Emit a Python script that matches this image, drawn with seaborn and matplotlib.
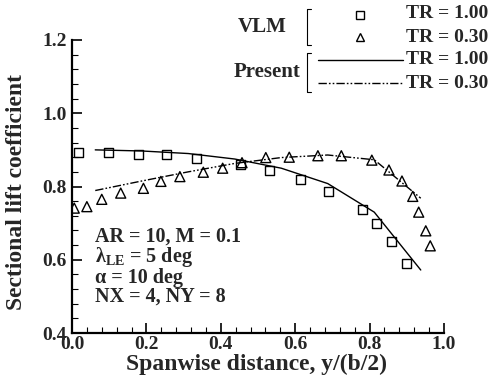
import numpy as np
import pandas as pd
import matplotlib
matplotlib.use("Agg")
import matplotlib.pyplot as plt
from matplotlib.lines import Line2D
import seaborn as sns

# ---- data ----
vlm_tr100_x = [0.018, 0.098, 0.179, 0.255, 0.335, 0.453, 0.532, 0.614, 0.690, 0.782, 0.818, 0.858, 0.898]
vlm_tr100_y = [0.894, 0.894, 0.888, 0.888, 0.877, 0.859, 0.845, 0.820, 0.786, 0.738, 0.698, 0.651, 0.591]

vlm_tr030_x = [0.006, 0.040, 0.080, 0.131, 0.192, 0.239, 0.290, 0.353, 0.405, 0.457, 0.521,
               0.584, 0.661, 0.724, 0.806, 0.852, 0.887, 0.916, 0.932, 0.951, 0.963]
vlm_tr030_y = [0.741, 0.745, 0.765, 0.782, 0.795, 0.814, 0.827, 0.839, 0.850, 0.865, 0.879,
               0.880, 0.884, 0.884, 0.872, 0.845, 0.815, 0.773, 0.730, 0.679, 0.638]

present_x = [0.0625, 0.1875, 0.3125, 0.4375, 0.5625, 0.6875, 0.8125, 0.9375]
present_tr100_y = [0.900, 0.897, 0.890, 0.875, 0.850, 0.808, 0.730, 0.572]
present_tr030_y = [0.789, 0.815, 0.840, 0.863, 0.879, 0.886, 0.873, 0.768]

x_ticks = [0.0, 0.2, 0.4, 0.6, 0.8, 1.0]
y_ticks = [0.4, 0.6, 0.8, 1.0, 1.2]

# ---- style ----
sns.set_style("ticks")
plt.rcParams['font.family'] = ['Liberation Serif', 'DejaVu Serif']
plt.rcParams['font.weight'] = 'bold'
plt.rcParams['mathtext.fontset'] = 'custom'
plt.rcParams['mathtext.rm'] = 'Liberation Serif:bold'
plt.rcParams['mathtext.it'] = 'Liberation Serif:bold'
plt.rcParams['mathtext.bf'] = 'Liberation Serif:bold'

W, H = 503, 382
fig = plt.figure(figsize=(W / 100, H / 100), dpi=100)
ax = fig.add_axes([72 / W, 1 - 333 / H, (444 - 72) / W, (333 - 40) / H])

df_p1 = pd.DataFrame({"x": present_x, "y": present_tr100_y})
df_p3 = pd.DataFrame({"x": present_x, "y": present_tr030_y})
df_v1 = pd.DataFrame({"x": vlm_tr100_x, "y": vlm_tr100_y})
df_v3 = pd.DataFrame({"x": vlm_tr030_x, "y": vlm_tr030_y})

dashdotdot = (0, (6, 1.5, 1.2, 1.5, 1.2, 1.5))
sns.lineplot(data=df_p1, x="x", y="y", ax=ax, color="black", lw=1.0, sort=False)
sns.lineplot(data=df_p3, x="x", y="y", ax=ax, color="black", lw=1.0, sort=False,
             linestyle=dashdotdot)
sns.scatterplot(data=df_v1, x="x", y="y", ax=ax, marker="s", s=42,
                facecolor="none", edgecolor="black", linewidth=1.0, zorder=3)
sns.scatterplot(data=df_v3, x="x", y="y", ax=ax, marker="^", s=52,
                facecolor="none", edgecolor="black", linewidth=1.0, zorder=3)

ax.set_xlim(0, 1.0)
ax.set_ylim(0.4, 1.2)
ax.set_xticks(x_ticks)
ax.set_yticks(y_ticks)
ax.set_xticklabels([f"{v:.1f}" for v in x_ticks])
ax.set_yticklabels([f"{v:.1f}" for v in y_ticks])
ax.set_xticks(np.arange(0, 1.0001, 0.04), minor=True)
ax.set_yticks(np.arange(0.4, 1.2001, 0.04), minor=True)
ax.tick_params(which='major', direction='in', length=7, width=1.2, labelsize=14,
               color='black')
ax.tick_params(axis='x', which='major', pad=2.5)
ax.tick_params(axis='y', which='major', pad=4)
ax.tick_params(which='minor', direction='in', length=4, width=0.8, color='black')
for lab in ax.get_xticklabels() + ax.get_yticklabels():
    lab.set_fontweight('bold')
for s in ['top', 'right']:
    ax.spines[s].set_visible(False)
for s in ['left', 'bottom']:
    ax.spines[s].set_linewidth(1.6)
    ax.spines[s].set_color('black')

ax.set_xlabel("Spanwise distance, y/(b/2)", fontsize=17, fontweight='bold')
ax.set_ylabel("Sectional lift coefficient", fontsize=17, fontweight='bold')
ax.xaxis.set_label_coords((257 - 72) / (444 - 72), -(364 - 333) / (333 - 40))
ax.yaxis.set_label_coords(-(72 - 17) / (444 - 72), (333 - 192) / (333 - 40))
ax.xaxis.label.set_va('center')
ax.yaxis.label.set_va('center')

# annotation
ann_fs = 14.5
ax.text(0.062, 0.328, "AR = 10, M = 0.1", transform=ax.transAxes, fontsize=ann_fs,
        fontweight='bold', va='center', ha='left')
ax.text(0.062, 0.259, r"$\mathrm{\lambda_{LE}}$ = 5 deg", transform=ax.transAxes, fontsize=ann_fs,
        fontweight='bold', va='center', ha='left')
ax.text(0.062, 0.188, "α = 10 deg", transform=ax.transAxes, fontsize=ann_fs,
        fontweight='bold', va='center', ha='left')
ax.text(0.062, 0.123, "NX = 4, NY = 8", transform=ax.transAxes, fontsize=ann_fs,
        fontweight='bold', va='center', ha='left')

# custom legend (figure pixel coordinates)
def fx(px):
    return px / W

def fy(py):
    return 1 - py / H

leg_fs = 14
rows = [14, 37, 60, 84]
labels = ["TR = 1.00", "TR = 0.30", "TR = 1.00", "TR = 0.30"]
for r, lab in zip(rows, labels):
    fig.text(fx(406), fy(r), lab, fontsize=leg_fs, fontweight='bold', va='center', ha='left')
fig.text(fx(287), fy(27), "VLM", fontsize=15, fontweight='bold', va='center', ha='right')
fig.text(fx(301), fy(72), "Present", fontsize=15, fontweight='bold', va='center', ha='right')

def bracket(x, y0, y1):
    fig.add_artist(Line2D([fx(x + 4), fx(x), fx(x), fx(x + 4)],
                          [fy(y0), fy(y0), fy(y1), fy(y1)], color='black', lw=0.8))

bracket(307, 9, 45)
bracket(307, 53, 92)

fig.add_artist(Line2D([fx(360)], [fy(15)], marker='s', ms=5.5, mfc='none', mec='black',
                      mew=1.0, ls='none'))
fig.add_artist(Line2D([fx(360)], [fy(37)], marker='^', ms=6, mfc='none', mec='black',
                      mew=1.0, ls='none'))
fig.add_artist(Line2D([fx(318), fx(403)], [fy(60), fy(60)], color='black', lw=1.0))
fig.add_artist(Line2D([fx(318), fx(403)], [fy(83), fy(83)], color='black', lw=1.0,
                      ls=dashdotdot))

fig.savefig("out.png", dpi=100)
